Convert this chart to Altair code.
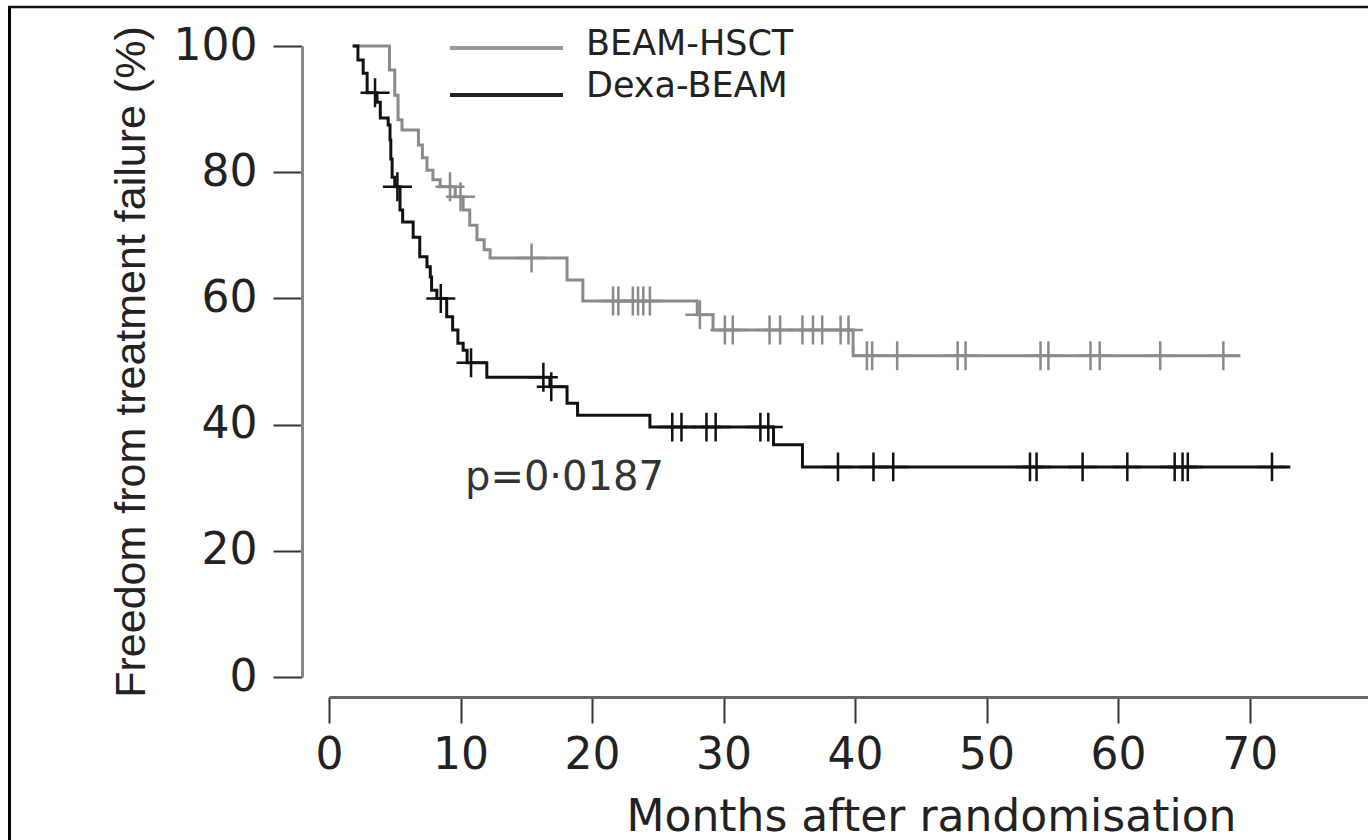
import altair as alt
import pandas as pd

groups = ["BEAM-HSCT", "Dexa-BEAM"]
colors = ["#8a8a8a", "#111111"]

# BEAM-HSCT: step times (months) and survival levels (%) after each step
hsct_t = [1.8, 4.6, 5.0, 5.25, 5.55, 6.8, 7.1, 7.45, 7.9, 8.45, 9.6, 10.2, 10.7,
          11.25, 11.8, 12.25, 18.1, 19.3, 28.0, 29.2, 39.85, 69.3]
hsct_v = [100, 96.2, 92.2, 88.3, 86.7, 84.3, 82.3, 80.3, 78.8, 77.7, 76.1, 74.0, 71.6,
          69.3, 67.7, 66.4, 62.9, 59.6, 57.4, 55.0, 50.9, 50.9]
hsct_cens = [9.2, 10.0, 15.4, 21.6, 22.0, 23.1, 23.5, 23.9, 24.4, 28.2, 30.1, 30.7,
             33.5, 34.3, 36.0, 36.8, 37.5, 38.9, 39.5, 40.9, 41.3, 43.2, 47.8, 48.4,
             54.1, 54.7, 57.9, 58.6, 63.2, 68.0]

# Dexa-BEAM
dexa_t = [1.8, 2.2, 2.6, 2.9, 3.65, 3.9, 4.5, 4.64, 4.7, 4.8, 5.0, 5.4, 5.6, 6.4,
          6.9, 7.45, 7.7, 7.8, 8.2, 8.95, 9.4, 9.8, 10.2, 10.5, 12.0, 16.8, 18.1,
          18.9, 24.4, 33.8, 36.0, 73.1]
dexa_v = [100, 97.8, 95.7, 92.6, 91.1, 88.6, 87.5, 85.1, 82.1, 79.2, 77.7, 74.0, 72.1,
          69.7, 66.6, 65.0, 63.4, 61.3, 60.0, 57.1, 55.0, 52.9, 51.8, 49.8, 47.5, 46.0,
          43.4, 41.5, 39.6, 36.8, 33.3, 33.3]
dexa_cens = [3.5, 5.2, 8.5, 10.8, 16.3, 16.9, 26.1, 26.8, 28.7, 29.4, 32.8, 33.4,
             38.7, 41.4, 42.9, 53.3, 53.8, 57.3, 60.7, 64.3, 64.9, 65.3, 71.7]

x_ticks = [0, 10, 20, 30, 40, 50, 60, 70]
y_ticks = [0, 20, 40, 60, 80, 100]
p_text = "p=0\u00b70187"


def level(ts, vs, c):
    lv = vs[0]
    for t, v in zip(ts, vs):
        if t <= c:
            lv = v
    return lv


rows = []
for g, ts, vs in [(groups[0], hsct_t, hsct_v), (groups[1], dexa_t, dexa_v)]:
    for i, (t, v) in enumerate(zip(ts, vs)):
        rows.append({"group": g, "t": t, "v": v, "i": i})
curves = pd.DataFrame(rows)

crows = []
for g, ts, vs, cs in [(groups[0], hsct_t, hsct_v, hsct_cens),
                      (groups[1], dexa_t, dexa_v, dexa_cens)]:
    for c in cs:
        crows.append({"group": g, "t": c, "v": level(ts, vs, c)})
cens = pd.DataFrame(crows)

FONT = "DejaVu Sans"

x_enc = alt.X("t:Q",
              scale=alt.Scale(domain=[0, 79], nice=False, zero=False),
              axis=alt.Axis(values=x_ticks, offset=20, grid=False,
                            domainColor="#666666", domainWidth=3,
                            tickColor="#333333", tickWidth=2, tickSize=26,
                            labelFont=FONT, labelFontSize=44, labelColor="#222222",
                            labelPadding=10, labelFlush=False, labelOverlap=False,
                            title="Months after randomisation",
                            titleFont=FONT, titleFontSize=44, titleFontWeight="normal",
                            titleColor="#222222", titleX=602, titleY=133,
                            titleBaseline="alphabetic", titleAlign="center"))
y_enc = alt.Y("v:Q",
              scale=alt.Scale(domain=[0, 100], nice=False, zero=False),
              axis=alt.Axis(values=y_ticks, offset=27, grid=False,
                            domainColor="#888888", domainWidth=3,
                            tickColor="#333333", tickWidth=2, tickSize=29,
                            labelFont=FONT, labelFontSize=44, labelColor="#222222",
                            labelPadding=16, labelFlush=False,
                            title="Freedom from treatment failure (%)",
                            titleFont="Liberation Sans",
                            titleFontSize=43, titleFontWeight="normal",
                            titleColor="#222222", titlePadding=20))
color_enc = alt.Color("group:N", scale=alt.Scale(domain=groups, range=colors), legend=None)

lines = alt.Chart(curves).mark_line(interpolate="step-after", strokeWidth=3).encode(
    x=x_enc, y=y_enc, color=color_enc, detail="group:N", order="i:Q")

marks = alt.Chart(cens).mark_point(shape="M-1,0L1,0M0,-1L0,1", filled=False,
                                   size=840, strokeWidth=2.5, opacity=1).encode(
    x=x_enc, y=y_enc, color=color_enc)

one = pd.DataFrame({"k": [0]})

leg_gray = alt.Chart(one).mark_rule(color="#999999", strokeWidth=4).encode(
    x=alt.value(121), x2=alt.value(234), y=alt.value(2))
leg_black = alt.Chart(one).mark_rule(color="#222222", strokeWidth=4).encode(
    x=alt.value(121), x2=alt.value(234), y=alt.value(49))
leg_t1 = alt.Chart(pd.DataFrame({"label": [groups[0]]})).mark_text(
    font=FONT, fontSize=35, align="left", baseline="alphabetic", color="#222222").encode(
    x=alt.value(257), y=alt.value(9), text="label:N")
leg_t2 = alt.Chart(pd.DataFrame({"label": [groups[1]]})).mark_text(
    font=FONT, fontSize=35, align="left", baseline="alphabetic", color="#222222").encode(
    x=alt.value(257), y=alt.value(51), text="label:N")
ptxt = alt.Chart(pd.DataFrame({"label": [p_text]})).mark_text(
    font=FONT, fontSize=40, align="left", baseline="alphabetic", color="#333333").encode(
    x=alt.value(136), y=alt.value(444), text="label:N")

frame_left = alt.Chart(one).mark_rule(color="#000000", strokeWidth=3).encode(
    x=alt.value(-319.5), y=alt.value(-40), y2=alt.value(800))
frame_top = alt.Chart(one).mark_rule(color="#111111", strokeWidth=2.5).encode(
    x=alt.value(-321), x2=alt.value(1045), y=alt.value(-39))

chart = alt.layer(lines, marks, leg_gray, leg_black, leg_t1, leg_t2, ptxt,
                  frame_left, frame_top).properties(
    width=1039, height=631,
    padding={"left": 329, "top": 46, "right": 0, "bottom": 163},
    autosize=alt.AutoSizeParams(type="none"),
    background="white",
).configure_view(stroke=None)

chart.save("out.html", embed_options={"renderer": "svg", "actions": False})
